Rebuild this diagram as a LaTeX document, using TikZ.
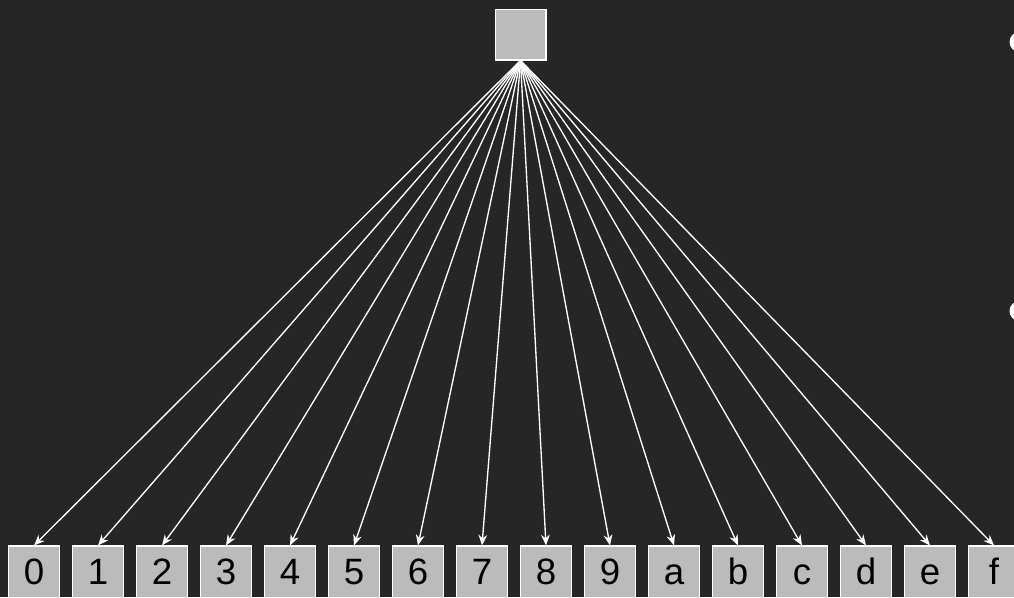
\documentclass[tikz,border=0pt]{standalone}
\usepackage{fontspec}
\setmainfont{Liberation Sans}
\usetikzlibrary{arrows.meta}
\definecolor{bgc}{RGB}{38,38,38}
\definecolor{boxc}{RGB}{187,187,187}
\tikzset{
  sq/.style={draw=white, fill=boxc, line width=1pt, minimum size=38.5pt, inner sep=0pt, text=black, font=\fontsize{27.5}{27.5}\selectfont, text height=19.7pt, text depth=0pt},
  edge/.style={draw=white, line width=1pt, -{Stealth[length=8pt,width=6.5pt]}},
  dot/.style={circle, fill=white, draw=none, minimum size=15pt, inner sep=0pt}
}
\begin{document}
\begin{tikzpicture}[x=0.75pt,y=-0.75pt]
\fill[bgc] (0,0) rectangle (1014,597);
\useasboundingbox (0,0) rectangle (1014,597);
\clip (0,0) rectangle (1014,597);
\node[sq, minimum size=38pt] (root) at (520.5,34.5) {};
\foreach \l [count=\i from 0] in {0,1,2,3,4,5,6,7,8,9,a,b,c,d,e,f} {
  \node[sq] (b\i) at ({34+64*\i},571.8) {\l};
  \draw[edge] (root.south) -- (b\i.north);
}
\node[dot] (c1) at (1019.5,42) {};
\node[dot] (c2) at (1019.5,311) {};
\end{tikzpicture}
\end{document}
